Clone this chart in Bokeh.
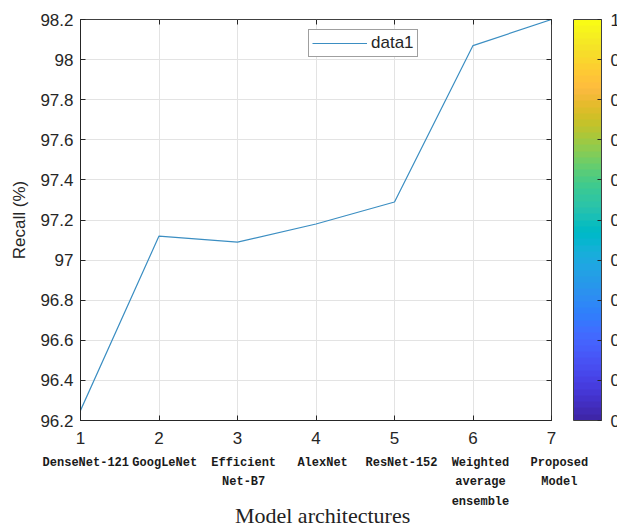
from bokeh.plotting import figure
from bokeh.layouts import column
from bokeh.models import (LinearAxis, FixedTicker, Range1d, ColorBar, LinearColorMapper,
                          Legend, LegendItem)
from bokeh.core.properties import value
from bokeh.embed import file_html
from bokeh.resources import INLINE

# ---- data ----
x_positions = [1, 2, 3, 4, 5, 6, 7]
recall = [96.25, 97.12, 97.09, 97.18, 97.29, 98.07, 98.20]
model_names = ["DenseNet-121", "GoogLeNet", "Efficient\nNet-B7", "AlexNet",
               "ResNet-152", "Weighted\naverage\nensemble", "Proposed\nModel"]
y_ticks = [96.2, 96.4, 96.6, 96.8, 97.0, 97.2, 97.4, 97.6, 97.8, 98.0, 98.2]
y_tick_labels = ["96.2", "96.4", "96.6", "96.8", "97", "97.2", "97.4", "97.6", "97.8", "98", "98.2"]
x_tick_labels = ["1", "2", "3", "4", "5", "6", "7"]
cbar_ticks = [0, 0.1, 0.2, 0.3, 0.4, 0.5, 0.6, 0.7, 0.8, 0.9, 1.0]
cbar_tick_labels = ["0", "0.1", "0.2", "0.3", "0.4", "0.5", "0.6", "0.7", "0.8", "0.9", "1"]
x_title = "Model architectures"

# parula colormap (style)
parula_rgb = [
    (0.2422, 0.1504, 0.6603), (0.2504, 0.1650, 0.7076), (0.2578, 0.1818, 0.7511), (0.2647, 0.1978, 0.7952),
    (0.2706, 0.2147, 0.8364), (0.2751, 0.2342, 0.8710), (0.2783, 0.2559, 0.8991), (0.2803, 0.2782, 0.9221),
    (0.2813, 0.3006, 0.9414), (0.2810, 0.3228, 0.9579), (0.2795, 0.3447, 0.9717), (0.2760, 0.3667, 0.9829),
    (0.2699, 0.3892, 0.9906), (0.2602, 0.4123, 0.9952), (0.2440, 0.4358, 0.9988), (0.2206, 0.4603, 0.9973),
    (0.1963, 0.4847, 0.9892), (0.1834, 0.5074, 0.9798), (0.1786, 0.5289, 0.9682), (0.1764, 0.5499, 0.9520),
    (0.1687, 0.5703, 0.9359), (0.1540, 0.5902, 0.9218), (0.1460, 0.6091, 0.9079), (0.1380, 0.6276, 0.8973),
    (0.1248, 0.6459, 0.8883), (0.1113, 0.6635, 0.8763), (0.0952, 0.6798, 0.8598), (0.0689, 0.6948, 0.8394),
    (0.0297, 0.7082, 0.8163), (0.0036, 0.7203, 0.7917), (0.0067, 0.7312, 0.7660), (0.0433, 0.7411, 0.7394),
    (0.0964, 0.7500, 0.7120), (0.1408, 0.7584, 0.6842), (0.1717, 0.7670, 0.6554), (0.1938, 0.7758, 0.6251),
    (0.2161, 0.7843, 0.5923), (0.2470, 0.7918, 0.5567), (0.2906, 0.7973, 0.5188), (0.3406, 0.8008, 0.4789),
    (0.3909, 0.8029, 0.4354), (0.4456, 0.8024, 0.3909), (0.5044, 0.7993, 0.3480), (0.5616, 0.7942, 0.3045),
    (0.6174, 0.7876, 0.2612), (0.6720, 0.7793, 0.2227), (0.7242, 0.7698, 0.1910), (0.7738, 0.7598, 0.1646),
    (0.8203, 0.7498, 0.1535), (0.8634, 0.7406, 0.1596), (0.9035, 0.7330, 0.1774), (0.9393, 0.7288, 0.2100),
    (0.9728, 0.7298, 0.2394), (0.9956, 0.7434, 0.2371), (0.9970, 0.7659, 0.2199), (0.9952, 0.7893, 0.2028),
    (0.9892, 0.8136, 0.1885), (0.9786, 0.8386, 0.1766), (0.9676, 0.8639, 0.1643), (0.9610, 0.8890, 0.1537),
    (0.9597, 0.9135, 0.1423), (0.9628, 0.9373, 0.1265), (0.9691, 0.9606, 0.1064), (0.9769, 0.9839, 0.0805),
]
parula = ["#%02x%02x%02x" % tuple(int(round(c * 255)) for c in rgb) for rgb in parula_rgb]

AX = "#262626"
FONT = "Liberation Sans"

# ================= main plot =================
p = figure(width=617, height=452, output_backend="svg", toolbar_location=None,
           x_range=Range1d(1, 7), y_range=Range1d(96.2, 98.2),
           min_border_left=80, min_border_right=66, min_border_top=19, min_border_bottom=32,
           x_axis_location=None, y_axis_location=None)
p.frame_align = False
p.outline_line_color = "#404040"
p.outline_line_width = 1
p.background_fill_color = "white"
p.border_fill_color = "white"

line = p.line(x_positions, recall, line_color="#3b8ec2", line_width=1.2)

yax = LinearAxis(ticker=FixedTicker(ticks=y_ticks),
                 major_label_overrides={t: l for t, l in zip(y_ticks, y_tick_labels)},
                 axis_label="Recall (%)")
xax = LinearAxis(ticker=FixedTicker(ticks=x_positions),
                 major_label_overrides={t: l for t, l in zip(x_positions, x_tick_labels)})
for ax in (yax, xax):
    ax.major_tick_in = 5
    ax.major_tick_out = 0
    ax.minor_tick_line_color = None
    ax.axis_line_color = AX
    ax.major_tick_line_color = AX
    ax.major_label_text_color = AX
    ax.major_label_text_font = FONT
    ax.major_label_text_font_size = "17px"
    ax.axis_label_text_font = FONT
    ax.axis_label_text_font_size = "17px"
    ax.axis_label_text_font_style = "normal"
    ax.axis_label_text_color = AX
yax.major_label_standoff = 7
yax.axis_label_standoff = 8
xax.major_label_standoff = 11
p.add_layout(yax, "left")
p.add_layout(xax, "below")

# top / right tick-only axes (box with ticks)
for loc in ("above", "right"):
    tks = x_positions if loc == "above" else y_ticks
    ax = LinearAxis(ticker=FixedTicker(ticks=tks),
                    major_label_overrides={t: "" for t in tks})
    ax.major_tick_in = 5
    ax.major_tick_out = 0
    ax.minor_tick_line_color = None
    ax.axis_line_color = None
    ax.major_tick_line_color = AX
    ax.major_label_standoff = 0
    p.add_layout(ax, loc)

grid_color = "#e3e3e3"
p.xgrid.ticker = FixedTicker(ticks=x_positions)
p.ygrid.ticker = FixedTicker(ticks=y_ticks)
p.xgrid.grid_line_color = grid_color
p.ygrid.grid_line_color = grid_color

legend = Legend(items=[LegendItem(label="data1", renderers=[line])],
                location=(228, 363), orientation="vertical")
legend.glyph_width = 55
legend.glyph_height = 18
legend.label_text_font = FONT
legend.label_text_font_size = "17px"
legend.label_text_color = AX
legend.label_standoff = 4
legend.padding = 3
legend.margin = 0
legend.spacing = 0
legend.border_line_color = "#404040"
legend.border_line_width = 1
legend.background_fill_alpha = 1
p.add_layout(legend, "center")

mapper = LinearColorMapper(palette=parula, low=0, high=1)
cbar = ColorBar(color_mapper=mapper, location=(493, 0), width=28, height=401,
                padding=0, margin=0,
                ticker=FixedTicker(ticks=cbar_ticks),
                major_label_overrides={t: l for t, l in zip(cbar_ticks, cbar_tick_labels)})
cbar.bar_line_color = "#404040"
cbar.major_tick_line_color = AX
cbar.major_tick_in = 4
cbar.major_tick_out = 0
cbar.minor_tick_line_color = None
cbar.major_label_text_font = FONT
cbar.major_label_text_font_size = "17px"
cbar.major_label_text_color = AX
cbar.label_standoff = 9
cbar.background_fill_alpha = 0
p.add_layout(cbar, "center")

# ================= model-name strip + x title =================
# x: model index, names centred ~6 px right of the numeric ticks (85 px + 78.9 px per model);
# y: pixels from the strip top
q = figure(width=617, height=77, output_backend="svg", toolbar_location=None,
           x_range=Range1d(1 - 85.3 / 78.93, 1 + (617 - 85.3) / 78.93), y_range=Range1d(77, 0),
           min_border=0, x_axis_location=None, y_axis_location=None)
q.frame_align = False
q.outline_line_color = None
q.xgrid.visible = False
q.ygrid.visible = False
q.background_fill_color = "white"
q.border_fill_color = "white"

q.text(x=x_positions, y=3, text=model_names,
       text_align="center", text_baseline="top",
       text_font=value("Liberation Mono"), text_font_style="bold",
       text_font_size="12px", text_line_height=1.42, text_color="#1a1a1a")
q.text(x=[4], y=[63], text=[x_title], text_align="center", text_baseline="middle",
       text_font=value("Liberation Serif"), text_font_size="22px", text_color="#222222")

layout = column(p, q, spacing=0)
open("out.html", "w").write(file_html(layout, INLINE))
